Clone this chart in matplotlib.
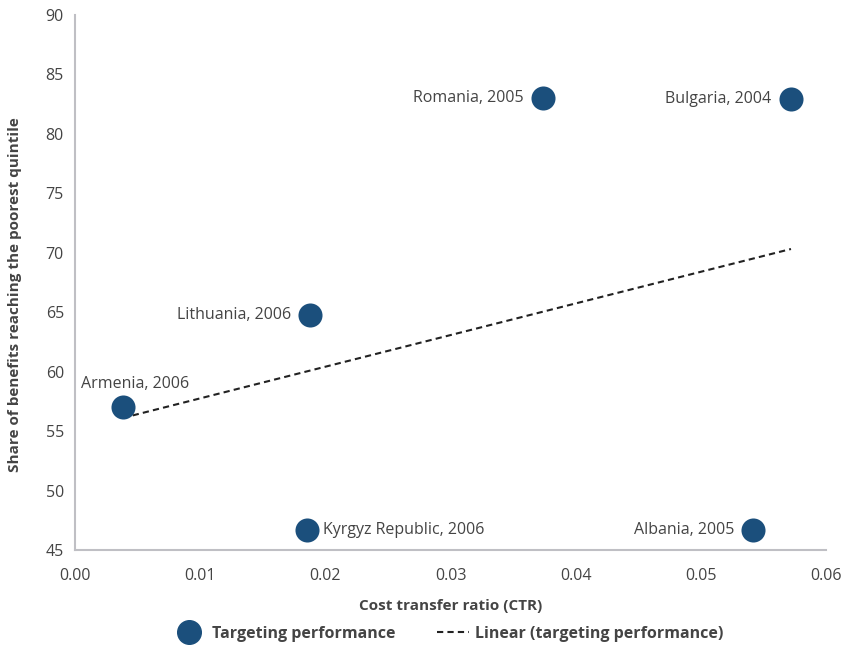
import numpy as np
import matplotlib
matplotlib.use('Agg')
import matplotlib.pyplot as plt
from matplotlib.lines import Line2D

# data
countries = ['Romania, 2005', 'Bulgaria, 2004', 'Lithuania, 2006',
             'Armenia, 2006', 'Kyrgyz Republic, 2006', 'Albania, 2005']
ctr = [0.0374, 0.0572, 0.0188, 0.0038, 0.0185, 0.0542]
share = [83.0, 82.9, 64.8, 57.0, 46.7, 46.7]
# where each label sits relative to its point
label_side = ['left', 'left', 'left', 'above', 'right', 'left']

x_ticks = [0.00, 0.01, 0.02, 0.03, 0.04, 0.05, 0.06]
y_ticks = [45, 50, 55, 60, 65, 70, 75, 80, 85, 90]

plt.rcParams['font.family'] = ['Open Sans', 'DejaVu Sans']
text_col = '#444444'
dot_col = '#1b4f7c'
axis_col = '#bfbfc4'

fig = plt.figure(figsize=(8.46, 6.49), dpi=100)
ax = fig.add_axes([0.0887, 0.1525, 0.8877, 0.8245])

ax.scatter(ctr, share, s=300, color=dot_col, zorder=3, linewidths=0)

# linear trend
slope, icpt = np.polyfit(ctr, share, 1)
xs = np.array([min(ctr), max(ctr)])
ax.plot(xs, slope * xs + icpt, ls=(0, (3, 2)), color='#222222', lw=1.5, zorder=2)

for name, x, y, side in zip(countries, ctr, share, label_side):
    if side == 'left':
        ax.annotate(name, (x, y), xytext=(-14, 0), textcoords='offset points',
                    ha='right', va='center', fontsize=11.5, color=text_col)
    elif side == 'right':
        ax.annotate(name, (x, y), xytext=(12, 0), textcoords='offset points',
                    ha='left', va='center', fontsize=11.5, color=text_col)
    else:
        ax.annotate(name, (x, y), xytext=(9, 11), textcoords='offset points',
                    ha='center', va='bottom', fontsize=11.5, color=text_col)

ax.set_xlim(0, 0.06)
ax.set_ylim(45, 90)
ax.set_xticks(x_ticks)
ax.set_xticklabels([f'{t:.2f}' for t in x_ticks])
ax.set_yticks(y_ticks)
ax.tick_params(length=0, labelsize=11.5, colors=text_col)
ax.tick_params(axis='x', pad=13)
ax.tick_params(axis='y', pad=8)

for s in ['top', 'right']:
    ax.spines[s].set_visible(False)
for s in ['left', 'bottom']:
    ax.spines[s].set_color(axis_col)
    ax.spines[s].set_linewidth(1.5)

ax.set_xlabel('Cost transfer ratio (CTR)', fontsize=11, fontweight='bold',
              color=text_col, labelpad=11)
ax.set_ylabel('Share of benefits reaching the poorest quintile', fontsize=11,
              fontweight='bold', color=text_col, labelpad=13)
ax.yaxis.set_label_coords(-0.07, 0.478)

handles = [
    Line2D([], [], marker='o', ls='none', color=dot_col, markersize=17),
    Line2D([], [], ls=(0, (3, 2)), color='#222222', lw=1.5),
]
leg = fig.legend(handles, ['Targeting performance', 'Linear (targeting performance)'],
                 loc='center', bbox_to_anchor=(0.53, 0.023), ncol=2, frameon=False,
                 handlelength=2.0, columnspacing=2.6, handletextpad=0.4,
                 prop={'size': 11.5, 'weight': 'bold'})
for t in leg.get_texts():
    t.set_color(text_col)

fig.savefig('out.png', dpi=100)
